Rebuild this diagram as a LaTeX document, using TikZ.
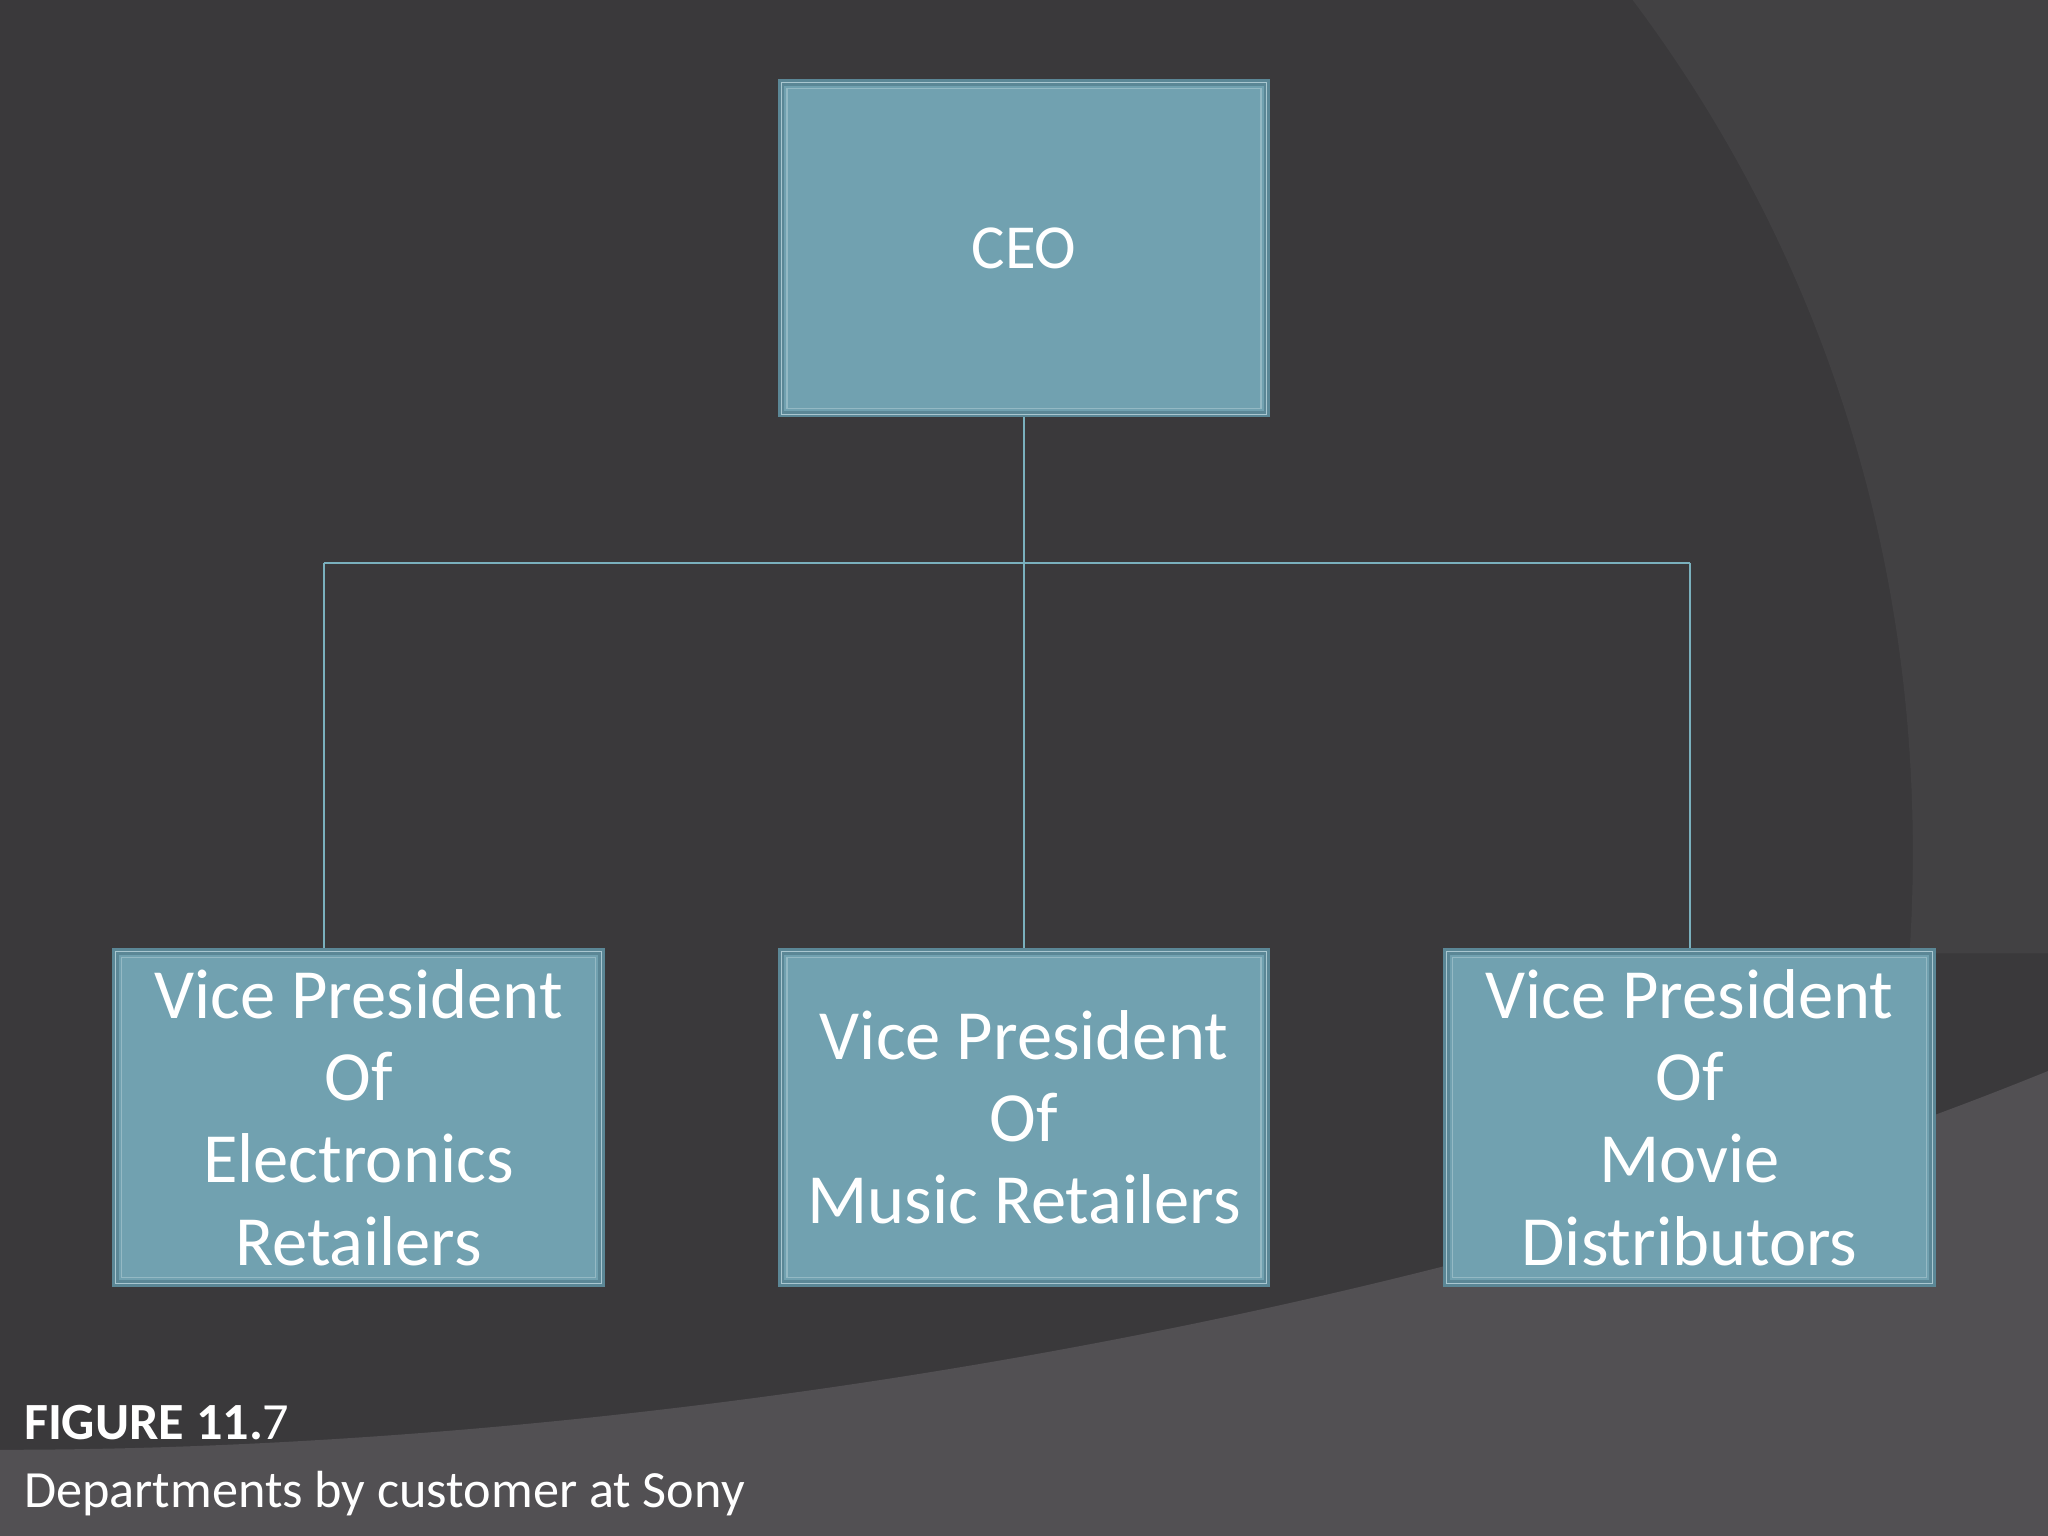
\documentclass[tikz,border=0pt]{standalone}
\usepackage{fontspec}
\setmainfont{Carlito}
\definecolor{bg}{HTML}{3A393B}
\definecolor{bgr}{HTML}{424143}
\definecolor{band}{HTML}{525053}
\definecolor{boxf}{HTML}{71A1B0}
\definecolor{boxd}{HTML}{5B8796}
\definecolor{conn}{HTML}{7AB0BD}
\begin{document}
\begin{tikzpicture}[x=0.5pt,y=-0.5pt,
  orgbox/.style={draw=boxd,line width=2.5pt,fill=boxf,minimum width=186pt,minimum height=127pt,
    text=white,align=center,font=\fontsize{27}{31.5}\selectfont,inner sep=0pt,
    postaction={draw=boxf!60!white,line width=0.4pt,inset}},
  inset/.style={},
  link/.style={draw=conn,line width=0.8pt}]
\useasboundingbox (0,0) rectangle (1568,1176);
\fill[bg] (0,0) rectangle (1568,1176);
\fill[bgr] (1250,0) .. controls (1400,200) and (1480,450) .. (1462,730) -- (1568,730) -- (1568,0) -- cycle;
\fill[band] (0,1110) .. controls (500,1110) and (1100,1010) .. (1568,820) -- (1568,1176) -- (0,1176) -- cycle;
\node[orgbox,font=\fontsize{24}{28}\selectfont] (ceo) at (784,190) {CEO};
\node[orgbox] (vl) at (274.5,855.5) {Vice President\\Of\\Electronics\\Retailers};
\node[orgbox] (vm) at (784,855.5) {Vice President\\Of\\Music Retailers};
\node[orgbox] (vr) at (1293.5,855.5) {Vice President\\Of\\Movie\\Distributors};
\foreach \n in {ceo,vl,vm,vr}{\draw[boxf!75!white,line width=0.5pt] ([xshift=3.5pt,yshift=-3.5pt]\n.north west) rectangle ([xshift=-3.5pt,yshift=3.5pt]\n.south east);}
\coordinate (j) at (784,431);
\coordinate (jl) at (248,431);
\coordinate (jr) at (1294,431);
\draw[link] (ceo.south) -- (j) -- (vm.north);
\draw[link] (jl) -- (jr);
\draw[link] (jl) -- (jl |- vl.north);
\draw[link] (jr) -- (jr |- vr.north);
\node[anchor=base west,text=white,font=\fontsize{20}{24}\selectfont,inner sep=0pt] (fig) at (18,1102) {\textbf{FIGURE 11.}7};
\node[anchor=base west,text=white,font=\fontsize{20}{24}\selectfont,inner sep=0pt] (cap) at (18,1154) {Departments by customer at Sony};
\end{tikzpicture}
\end{document}
